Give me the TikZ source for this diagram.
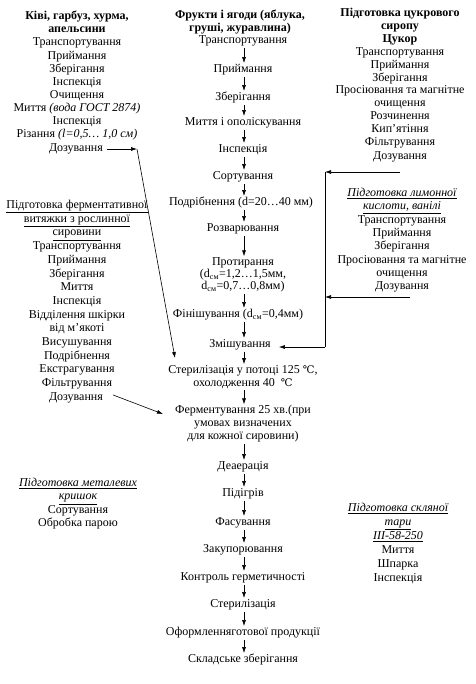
\documentclass[tikz,border=0pt]{standalone}
\usepackage{fontspec}
\setmainfont{Liberation Serif}
\newfontfamily\dvs{DejaVu Serif}
\usetikzlibrary{arrows.meta}
\newcommand{\fs}{\fontsize{12}{13.3}\selectfont}
\newcommand{\degC}{{\dvs\fontsize{10.5}{12}\selectfont ℃}}
\newcommand{\dsm}{d\textsubscript{см}}
\begin{document}
\begin{tikzpicture}[x=1pt,y=-1pt,
  every node/.style={inner sep=0pt, font=\fs},
  txt/.style={align=center},
  mid/.style={text height=8.5pt, text depth=3pt},
  arr/.style={-{Latex[length=6pt,width=4pt]}, line width=0.6pt},
  ln/.style={line width=0.6pt},
  flow/.style={arr, shorten <=1.5pt, shorten >=1pt}]
\useasboundingbox (0,0) rectangle (475,684);

% ---------- middle column ----------
\node[txt, font=\fs\bfseries] (mt) at (240,22) {Фрукти і ягоди (яблука,\\груші, журавлина)};
\node[mid] (m1) at (243,41) {Транспортування};
\node[mid] (m2) at (243,70) {Приймання};
\node[mid] (m3) at (243,98) {Зберігання};
\node[mid] (m4) at (243,123) {Миття і ополіскування};
\node[mid] (m5) at (243,150) {Інспекція};
\node[mid] (m6) at (243,177) {Сортування};
\node[mid] (m7) at (241,203) {Подрібнення (d=20…40 мм)};
\node[mid] (m8) at (243,229) {Розварювання};
\node[txt, font=\fontsize{12}{12.3}\selectfont] (m9) at (243,275) {Протирання\\(\dsm=1,2…1,5мм,\\\dsm=0,7…0,8мм)};
\node[mid] (m10) at (238,315) {Фінішування (\dsm=0,4мм)};
\node[mid] (m11) at (240,345) {Змішування};
\node[txt, font=\fontsize{12}{13}\selectfont] (m12) at (243,377) {Стерилізація у потоці 125 \degC,\\охолодження 40 ~\degC};
\node[txt, font=\fontsize{12}{13}\selectfont] (m13) at (243,424) {Ферментування 25 хв.(при\\умовах визначених\\для кожної сировини)};
\node[mid] (m14) at (243,467) {Деаерація};
\node[mid] (m15) at (243,494) {Підігрів};
\node[mid] (m16) at (243,523) {Фасування};
\node[mid] (m17) at (243,550) {Закупорювання};
\node[mid] (m18) at (243,578) {Контроль герметичності};
\node[mid] (m19) at (243,605) {Стерилізація};
\node[mid] (m20) at (243,633) {Оформленняготової продукції};
\node[mid] (m21) at (243,660) {Складське зберігання};

\foreach \a/\b in {m1/m2,m2/m3,m3/m4,m4/m5,m5/m6,m6/m7,m7/m8,m8/m9,m9/m10,m10/m11,m11/m12,m12/m13,m13/m14,m14/m15,m15/m16,m16/m17,m17/m18,m18/m19,m19/m20,m20/m21}
  \draw[flow] (\a.south -| 244,0) -- (\b.north -| 244,0);

% ---------- left column ----------
\node[txt, anchor=north, font=\fontsize{12}{13.1}\selectfont] (L1) at (77,11) {\textbf{Ківі, гарбуз, хурма,}\\\textbf{апельсини}\\Транспортування\\Приймання\\Зберігання\\Інспекція\\Очищення\\Миття \textit{(вода ГОСТ 2874)}\\Інспекція\\Різання \textit{(l=0,5… 1,0 см)}};
\node (L1d) at (76,149) {Дозування};
\coordinate (c1) at (137,149);
\coordinate (c2) at (175,358);
\draw[arr, shorten <=4pt] (L1d.east) -- (c1);
\draw[arr] (c1) -- (c2);

\node[txt, anchor=north, font=\fontsize{12}{13.7}\selectfont] (L2) at (77,200) {\underline{Підготовка ферментативної}\\\underline{витяжки з рослинної}\\\underline{сировини}\\Транспортування\\Приймання\\Зберігання\\Миття\\Інспекція\\Відділення шкірки\\від м'якоті\\Висушування\\Подрібнення\\Екстрагування\\Фільтрування};
\node[mid] (L2d) at (76,398) {Дозування};
\coordinate (c3) at (163,414);
\draw[arr] ([xshift=10pt,yshift=3pt]L2d.east) -- (c3);

\node[txt, anchor=north, font=\fontsize{12}{13.3}\selectfont] (L3) at (78,478) {\textit{\underline{Підготовка металевих}}\\\textit{\underline{кришок}}\\Сортування\\Обробка парою};

% ---------- right column ----------
\node[txt, anchor=north, font=\fontsize{12}{12.9}\selectfont] (R1) at (400,8) {\textbf{Підготовка цукрового}\\\textbf{сиропу}\\\textbf{Цукор}\\Транспортування\\Приймання\\Зберігання\\Просіювання та магнітне\\очищення\\Розчинення\\Кип’ятіння\\Фільтрування};
\node (R1d) at (400,157) {Дозування};

\node[txt, anchor=north, font=\fontsize{12}{13.3}\selectfont] (R2) at (402,188) {\textit{\underline{Підготовка лимонної}}\\\textit{\underline{кислоти, ванілі}}\\Транспортування\\Приймання\\Зберігання\\Просіювання та магнітне\\очищення};
\node[mid] (R2d) at (402,287) {Дозування};

\coordinate (vtop) at (325,172);
\coordinate (vmid) at (325,297);
\coordinate (vbot) at (325,347);
\draw[arr] (R1d.south |- vtop) -- (vtop);
\draw[arr] ([xshift=8pt]R2d.south |- vmid) -- (vmid);
\draw[ln] (vtop) -- (vbot);
\draw[arr, shorten >=8pt] (vbot) -- (m11.east |- vbot);

\node[txt, anchor=north, font=\fontsize{12}{14}\selectfont] (R3) at (398,503) {\textit{\underline{Підготовка скляної}}\\\textit{\underline{тари}}\\\textit{\underline{III-58-250}}\\Миття\\Шпарка\\Інспекція};
\end{tikzpicture}
\end{document}
